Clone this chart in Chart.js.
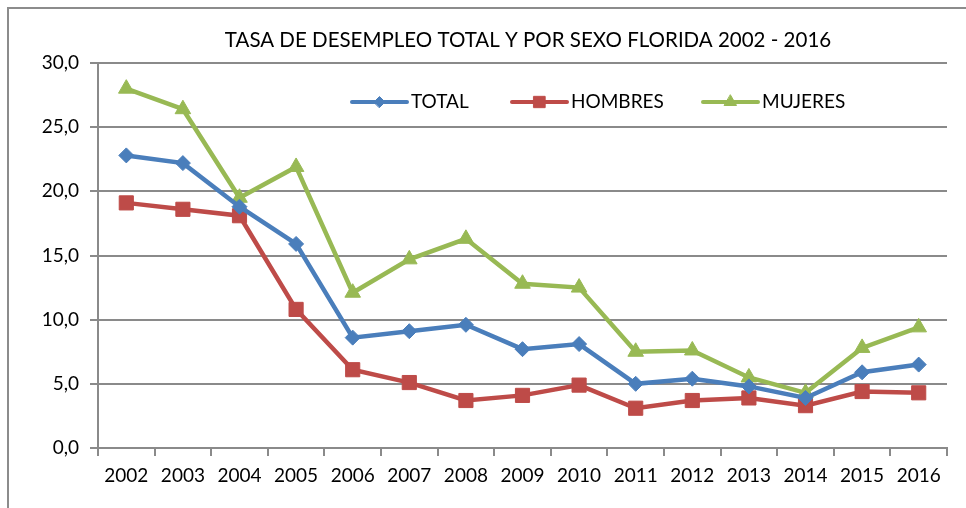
<!DOCTYPE html>
<html>
<head>
<meta charset="utf-8">
<script src="https://cdn.jsdelivr.net/npm/chart.js@4.4.1/dist/chart.umd.min.js"></script>
<style>
  html, body { margin: 0; padding: 0; background: #fff; }
  #wrap { position: relative; width: 966px; height: 508px; }
  #frame { position: absolute; left: 7px; top: 7px; right: -5px; bottom: -5px;
           border-left: 2px solid #8c8c8c; border-top: 2px solid #8c8c8c; }
  canvas { position: absolute; left: 0; top: 0; }
</style>
</head>
<body>
<div id="wrap">
  <div id="frame"></div>
  <canvas id="chart" width="966" height="508"></canvas>
</div>
<script>
/* ── DATA ─────────────────────────────────── */
const years    = ['2002','2003','2004','2005','2006','2007','2008','2009','2010','2011','2012','2013','2014','2015','2016'];
const total    = [22.8, 22.2, 18.8, 15.9, 8.6, 9.1, 9.6, 7.7, 8.1, 5.0, 5.4, 4.8, 3.9, 5.9, 6.5];
const hombres  = [19.1, 18.6, 18.1, 10.8, 6.1, 5.1, 3.7, 4.1, 4.9, 3.1, 3.7, 3.9, 3.3, 4.4, 4.3];
const mujeres  = [28.0, 26.4, 19.5, 21.9, 12.1, 14.7, 16.3, 12.8, 12.5, 7.5, 7.6, 5.5, 4.3, 7.8, 9.4];
const yTicks   = [0, 5, 10, 15, 20, 25, 30];

const TITLE = 'TASA DE DESEMPLEO TOTAL Y POR SEXO FLORIDA 2002 - 2016';
const FONT  = 'Lato, "Open Sans", sans-serif';
const GRID  = '#8a8a8a';

/* ── PLUGINS: title + legend inside plot ──── */
const titlePlugin = {
  id: 'customTitle',
  afterDraw(c) {
    const ctx = c.ctx;
    ctx.save();
    ctx.font = '20.5px ' + FONT;
    ctx.fillStyle = '#000';
    ctx.textAlign = 'center';
    ctx.textBaseline = 'middle';
    ctx.fillText(TITLE, 528, 40);
    ctx.restore();
  }
};

const legendPlugin = {
  id: 'insideLegend',
  afterDatasetsDraw(c) {
    const ctx = c.ctx;
    const xs = [352, 512, 703];
    const y = 102;
    ctx.save();
    c.data.datasets.forEach((ds, i) => {
      const x0 = xs[i];
      ctx.strokeStyle = ds.borderColor;
      ctx.lineWidth = 4;
      ctx.lineCap = 'round';
      ctx.beginPath();
      ctx.moveTo(x0, y);
      ctx.lineTo(x0 + 55, y);
      ctx.stroke();
      ctx.fillStyle = ds.backgroundColor;
      ctx.lineWidth = 1;
      Chart.helpers.drawPoint(ctx, { pointStyle: ds.pointStyle, radius: ds.pointRadius - 2, borderWidth: 1 }, x0 + 27.5, y);
      ctx.fillStyle = '#000';
      ctx.font = '19px ' + FONT;
      ctx.textAlign = 'left';
      ctx.textBaseline = 'middle';
      ctx.fillText(ds.label, x0 + 59, y);
    });
    ctx.restore();
  }
};

/* ── CHART ────────────────────────────────── */
const fmt = v => v.toFixed(1).replace('.', ',');

new Chart(document.getElementById('chart'), {
  type: 'line',
  data: {
    labels: years,
    datasets: [
      { label: 'TOTAL',   data: total,   borderColor: '#4a7ebb', backgroundColor: '#4a7ebb', borderWidth: 4.5, pointStyle: 'rectRot',  pointRadius: 7.5, pointBorderWidth: 1, tension: 0 },
      { label: 'HOMBRES', data: hombres, borderColor: '#be4b48', backgroundColor: '#be4b48', borderWidth: 4.5, pointStyle: 'rect',     pointRadius: 10,  pointBorderWidth: 1, tension: 0 },
      { label: 'MUJERES', data: mujeres, borderColor: '#98b954', backgroundColor: '#98b954', borderWidth: 4.5, pointStyle: 'triangle', pointRadius: 9,   pointBorderWidth: 1, tension: 0 }
    ]
  },
  options: {
    responsive: false,
    animation: false,
    layout: { padding: { left: 0, right: 19, top: 63, bottom: 0 } },
    plugins: { legend: { display: false }, title: { display: false }, tooltip: { enabled: false } },
    scales: {
      x: {
        offset: true,
        grid: { drawOnChartArea: false, drawTicks: true, tickLength: 8, color: GRID, lineWidth: 2, offset: true },
        border: { display: true, color: GRID, width: 2 },
        ticks: { color: '#000', font: { family: FONT, size: 19 }, padding: 8, maxRotation: 0, autoSkip: false },
        afterFit(s) { s.height = 60; }
      },
      y: {
        min: 0, max: 30,
        afterBuildTicks(s) { s.ticks = yTicks.map(v => ({ value: v })); },
        grid: { color: GRID, lineWidth: 2, drawTicks: true, tickLength: 8 },
        border: { display: true, color: GRID, width: 2 },
        ticks: { color: '#000', font: { family: FONT, size: 19 }, padding: 11, callback: v => fmt(v) },
        afterFit(s) { s.width = 98; }
      }
    }
  },
  plugins: [titlePlugin, legendPlugin]
});
</script>
</body>
</html>
